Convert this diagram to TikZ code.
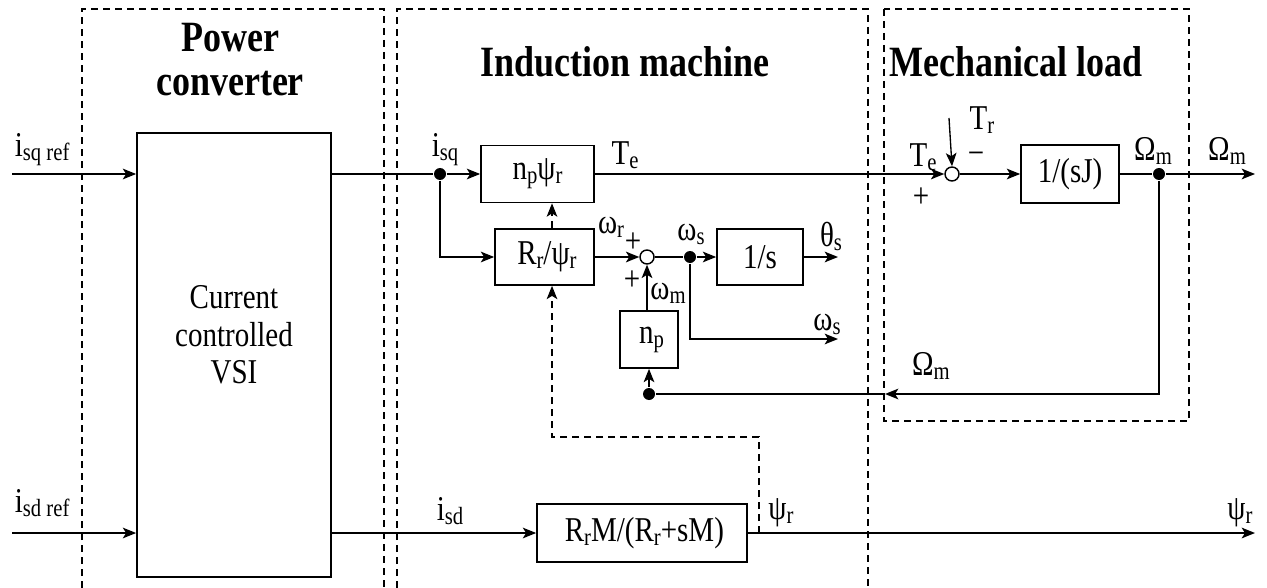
\documentclass[tikz,border=0pt]{standalone}
\usepackage{fontspec}
\usepackage{graphicx}
\setmainfont{Liberation Serif}
\usetikzlibrary{arrows.meta,calc}
\newcommand\sbs[1]{\raisebox{-2.5pt}{\fontsize{15.5}{16}\selectfont #1}}
\newcommand\tx[1]{\scalebox{1}[1.2]{#1}}
\begin{document}
\begin{tikzpicture}[x=0.75pt,y=-0.75pt,
  line width=1.3pt,
  >={Stealth[length=10pt,width=8pt,inset=2.5pt]},
  blk/.style={draw,line width=1.3pt,inner sep=0pt,font=\fontsize{21.75}{24}\selectfont},
  frame/.style={line width=1.05pt,dash pattern=on 5.5pt off 3.5pt},
  fb/.style={line width=1.05pt,dash pattern=on 5.5pt off 3.5pt},
  lbl/.style={inner sep=0pt,font=\fontsize{21.75}{24}\selectfont},
  head/.style={inner sep=0pt,font=\fontsize{27}{33}\selectfont\bfseries,align=center},
  dot/.style={circle,fill,inner sep=0pt,minimum size=9pt},
  sum/.style={circle,draw,fill=white,inner sep=0pt,minimum size=10.5pt,line width=1.1pt}]
\useasboundingbox (0,0) rectangle (1267,588);

% frames
\draw[frame] (82,588) -- (82,9) -- (384,9) -- (384,588);
\draw[frame] (397,588) -- (397,9) -- (868,9) -- (868,588);
\draw[frame] (884,9) rectangle (1189,421);

% headings
\node[head] (h1) at (230,60) {\tx{Power}\\\tx{converter}};
\node[head] (h2) at (625,62) {\tx{Induction machine}};
\node[head,anchor=west] (h3) at (889,62) {\tx{Mechanical load}};

% blocks
\node[blk,minimum width=145.5pt,minimum height=333pt] (pc) at (234,355) {};
\node[lbl,align=center,font=\fontsize{21.75}{28}\selectfont] (pct) at (234,335) {\tx{Current}\\\tx{controlled}\\\tx{VSI}};
\node[blk,minimum width=84.75pt,minimum height=42.75pt] (npp) at (537.5,174) {\tx{n\sbs{p}ψ\sbs{r}}};
\node[blk,minimum width=74.25pt,minimum height=42pt] (rr) at (544.5,257) {\tx{\,R\sbs{r}/ψ\sbs{r}}};
\node[blk,minimum width=64.5pt,minimum height=42pt] (integ) at (760,257) {\tx{1/s}};
\node[blk,minimum width=43.5pt,minimum height=42.75pt] (np) at (649,339.5) {\tx{\,n\sbs{p}}};
\node[blk,minimum width=73.5pt,minimum height=43.5pt] (sj) at (1070,174) {\tx{1/(sJ)}};
\node[blk,minimum width=157.5pt,minimum height=43.5pt] (flux) at (642,533) {\tx{\,R\sbs{r}M/(R\sbs{r}+sM)}};

% sums and dots
\node[sum] (s1) at (647,257) {};
\node[sum] (s2) at (952,174) {};
\node[dot] (disq) at (440,174) {};
\node[dot] (dws) at (690,257) {};
\node[dot] (dom) at (1159,174) {};
\node[dot] (dfb) at (649,394) {};

% free ends
\coordinate (inq) at (12,174);
\coordinate (ind) at (12,533);
\coordinate (tr) at (949,118);
\coordinate (omout) at (1255,174);
\coordinate (thout) at (838,257);
\coordinate (wsout) at (838,339);
\coordinate (fbtip) at (885,394);
\coordinate (psiout) at (1255,533);
\coordinate (tap) at (759,533);
\coordinate (fbc) at (552,437);

% connectors
\draw[->] (inq) -- (inq -| pc.west);
\draw[->] (ind) -- (ind -| pc.west);
\draw (pc.east |- disq) -- (disq);
\draw[->] (disq) -- (npp.west |- disq);
\draw[->] (disq) |- (rr.west);
\draw[->] (npp.east |- s2) -- (s2.west);
\draw[->,line width=1pt] (tr) -- (s2.north);
\draw[->] (s2.east) -- (sj.west);
\draw (sj.east) -- (dom);
\draw[->] (dom) -- (omout);
\draw[->] (dom) |- (fbtip);
\draw (fbtip) -- (dfb);
\draw[->] (dfb) -- (np.south -| dfb);
\draw[->] (np.north -| s1) -- (s1.south);
\draw[->] (rr.east) -- (s1.west);
\draw (s1.east) -- (dws);
\draw[->] (dws) -- (integ.west);
\draw[->] (integ.east) -- (thout);
\draw[->] (dws) |- (wsout);
\draw[->] (pc.east |- flux) -- (flux.west);
\draw[->] (flux.east) -- (psiout);
\draw[fb,->] (rr.north -| fbc) -- (npp.south -| fbc);
\draw[fb,->] (tap) |- (fbc) -- (rr.south -| fbc);

% labels
\node[lbl,anchor=west] at (14,150) {\tx{i\sbs{sq ref}}};
\node[lbl,anchor=west] at (14,503) {\tx{i\sbs{sd ref}}};
\node[lbl] at (445,150) {\tx{i\sbs{sq}}};
\node[lbl] at (625,155) {\tx{T\sbs{e}}};
\node[lbl] at (611,227) {\tx{ω\sbs{r}}};
\node[lbl] at (633,243) {\tx{+}};
\node[lbl] at (632,281) {\tx{+}};
\node[lbl] at (668,293) {\tx{ω\sbs{m}}};
\node[lbl] at (691,234) {\tx{ω\sbs{s}}};
\node[lbl] at (831,236) {\tx{θ\sbs{s}}};
\node[lbl] at (827,324) {\tx{ω\sbs{s}}};
\node[lbl] at (923,157) {\tx{T\sbs{e}}};
\node[lbl] at (982,120) {\tx{T\sbs{r}}};
\node[lbl] at (976,158) {\tx{−}};
\node[lbl] at (921,198) {\tx{+}};
\node[lbl] at (1153,151) {\tx{Ω\sbs{m}}};
\node[lbl] at (1227,151) {\tx{Ω\sbs{m}}};
\node[lbl] at (931,366) {\tx{Ω\sbs{m}}};
\node[lbl] at (450,511) {\tx{i\sbs{sd}}};
\node[lbl] at (781,513) {\tx{ψ\sbs{r}}};
\node[lbl] at (1240,513) {\tx{ψ\sbs{r}}};
\end{tikzpicture}
\end{document}
